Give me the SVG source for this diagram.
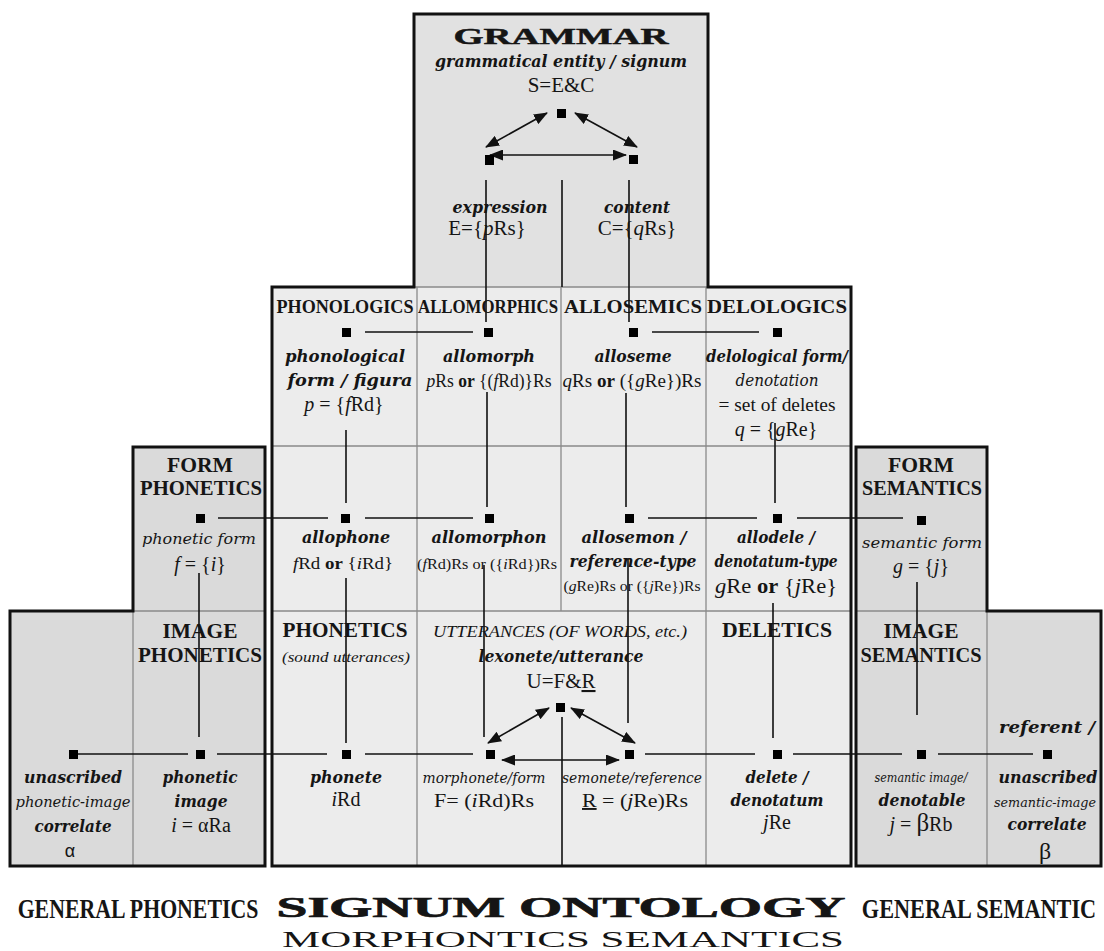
<svg xmlns="http://www.w3.org/2000/svg" width="1104" height="951" viewBox="0 0 1104 951">
<defs>
<marker id="ah" viewBox="0 0 14 11" refX="13" refY="5.5" markerWidth="14" markerHeight="11" markerUnits="userSpaceOnUse" orient="auto-start-reverse"><path d="M0,0 L14,5.5 L0,11 z" fill="#111"/></marker>
</defs>
<style>
text{font-family:"Liberation Serif","Times New Roman",serif;fill:#151515;text-anchor:middle}
.hd{font-weight:bold;font-size:18px}
.sh{font-weight:bold;font-size:20.5px}
.bi{font-family:"DejaVu Serif",serif;font-weight:bold;font-style:italic;font-size:16px}
.it{font-style:italic;font-size:17px}
.ic{font-family:"DejaVu Serif",serif;font-style:italic;font-size:15px}
.rg{font-size:20px}
.i{font-style:italic}
.b{font-weight:bold}
.sq{fill:#000}
.cn line{stroke:#111;stroke-width:1.6;fill:none}
.ar{marker-start:url(#ah);marker-end:url(#ah)}
.grid line{stroke:#8a8a8a;stroke-width:1.3}
.frame{stroke:#111;stroke-width:3;fill:none;stroke-linejoin:miter}
.title{font-weight:bold}
</style>
<rect x="0" y="0" width="1104" height="951" fill="#fff"/>
<g id="backgrounds">
<rect x="272" y="287" width="579" height="579" fill="#ececec"/>
<rect x="414" y="14" width="294" height="273" fill="#e1e1e1"/>
<polygon points="10,611 133,611 133,447 265,447 265,866 10,866" fill="#dadada"/>
<polygon points="856,447 987,447 987,611 1101,611 1101,866 856,866" fill="#dadada"/>
</g>
<g class="grid" id="grid">
<line x1="414" y1="287" x2="708" y2="287"/>
<line x1="417" y1="287" x2="417" y2="866"/>
<line x1="561" y1="287" x2="561" y2="611"/>
<line x1="706" y1="287" x2="706" y2="866"/>
<line x1="272" y1="446" x2="851" y2="446"/>
<line x1="272" y1="611" x2="851" y2="611"/>
<line x1="133" y1="611" x2="265" y2="611"/>
<line x1="133" y1="611" x2="133" y2="866"/>
<line x1="856" y1="611" x2="987" y2="611"/>
<line x1="987" y1="611" x2="987" y2="866"/>
</g>
<g id="frames">
<polygon class="frame" points="272,287 414,287 414,14 708,14 708,287 851,287 851,866 272,866"/>
<polygon class="frame" points="10,611 133,611 133,447 265,447 265,866 10,866"/>
<polygon class="frame" points="856,447 987,447 987,611 1101,611 1101,866 856,866"/>
</g>
<g class="cn" id="connectors">
<line class="ar" x1="547" y1="113" x2="486" y2="147"/>
<line class="ar" x1="575" y1="113" x2="637" y2="147"/>
<line class="ar" x1="490" y1="155" x2="626" y2="155"/>
<line x1="486" y1="180" x2="486" y2="322"/>
<line x1="562" y1="180" x2="562" y2="287"/>
<line x1="629" y1="180" x2="629" y2="322"/>
<line x1="365" y1="332" x2="473" y2="332"/>
<line x1="652" y1="332" x2="759" y2="332"/>
<line x1="346" y1="430" x2="346" y2="503"/>
<line x1="487" y1="392" x2="487" y2="507"/>
<line x1="626" y1="393" x2="626" y2="507"/>
<line x1="775" y1="423" x2="775" y2="503"/>
<line x1="218" y1="518" x2="328" y2="518"/>
<line x1="365" y1="518" x2="473" y2="518"/>
<line x1="648" y1="518" x2="757" y2="518"/>
<line x1="797" y1="518" x2="903" y2="518"/>
<line x1="199" y1="573" x2="199" y2="737"/>
<line x1="346" y1="578" x2="346" y2="743"/>
<line x1="484" y1="565" x2="484" y2="737"/>
<line x1="628" y1="558" x2="628" y2="723"/>
<line x1="773" y1="603" x2="773" y2="738"/>
<line x1="917" y1="582" x2="917" y2="715"/>
<line x1="78" y1="754" x2="188" y2="754"/>
<line x1="217" y1="754" x2="327" y2="754"/>
<line x1="365" y1="754" x2="473" y2="754"/>
<line x1="645" y1="754" x2="755" y2="754"/>
<line x1="793" y1="754" x2="902" y2="754"/>
<line x1="938" y1="754" x2="1033" y2="754"/>
<line class="ar" x1="502" y1="760" x2="619" y2="760"/>
<line class="ar" x1="549" y1="708" x2="488" y2="743"/>
<line class="ar" x1="571" y1="708" x2="635" y2="743"/>
<line x1="562" y1="717" x2="562" y2="866"/>
</g>
<g id="grammar">
<text x="561" y="44" class="hd" style="font-size:24px;stroke:#151515;stroke-width:0.5" textLength="215" lengthAdjust="spacingAndGlyphs">GRAMMAR</text>
<text x="561" y="67" class="bi" textLength="252" lengthAdjust="spacingAndGlyphs">grammatical entity / signum</text>
<text x="561" y="92" class="rg" style="font-size:21px">S=E&amp;C</text>
<rect class="sq" x="557" y="109" width="9" height="9"/>
</g>
<g id="expression">
<rect class="sq" x="485" y="155" width="9" height="10"/>
<text x="500" y="213" class="bi" style="font-size:17px" textLength="95" lengthAdjust="spacingAndGlyphs">expression</text>
<text x="487" y="235" class="rg" style="font-size:21px">E={<tspan class="i">p</tspan>Rs}</text>
</g>
<g id="content">
<rect class="sq" x="629" y="155" width="9" height="9"/>
<text x="637" y="213" class="bi" style="font-size:17px" textLength="66" lengthAdjust="spacingAndGlyphs">content</text>
<text x="637" y="235" class="rg" style="font-size:21px">C={<tspan class="i">q</tspan>Rs}</text>
</g>
<g id="phonological-form">
<text x="345" y="313" class="hd" textLength="137" lengthAdjust="spacingAndGlyphs">PHONOLOGICS</text>
<rect class="sq" x="342" y="328" width="9" height="9"/>
<text x="345" y="362" class="bi" textLength="120" lengthAdjust="spacingAndGlyphs">phonological</text>
<text x="350" y="386" class="bi" textLength="125" lengthAdjust="spacingAndGlyphs">form / figura</text>
<text x="344" y="411" class="rg"><tspan class="i">p</tspan> = {<tspan class="i">f</tspan>Rd}</text>
</g>
<g id="allomorph">
<text x="488" y="313" class="hd" textLength="140" lengthAdjust="spacingAndGlyphs">ALLOMORPHICS</text>
<rect class="sq" x="484" y="328" width="9" height="9"/>
<text x="489" y="362" class="bi" textLength="92" lengthAdjust="spacingAndGlyphs">allomorph</text>
<text x="489" y="387" class="rg" style="font-size:18px" textLength="125" lengthAdjust="spacingAndGlyphs"><tspan class="i">p</tspan>Rs <tspan class="b">or</tspan> {(<tspan class="i">f</tspan>Rd)}Rs</text>
</g>
<g id="alloseme">
<text x="633" y="313" class="hd" textLength="138" lengthAdjust="spacingAndGlyphs">ALLOSEMICS</text>
<rect class="sq" x="629" y="328" width="9" height="9"/>
<text x="633" y="362" class="bi" textLength="77" lengthAdjust="spacingAndGlyphs">alloseme</text>
<text x="632" y="387" class="rg" style="font-size:18px" textLength="139" lengthAdjust="spacingAndGlyphs"><tspan class="i">q</tspan>Rs <tspan class="b">or</tspan> ({<tspan class="i">g</tspan>Re})Rs</text>
</g>
<g id="delological-form">
<text x="777" y="313" class="hd" textLength="140" lengthAdjust="spacingAndGlyphs">DELOLOGICS</text>
<rect class="sq" x="773" y="328" width="9" height="9"/>
<text x="777" y="362" class="bi" textLength="142" lengthAdjust="spacingAndGlyphs">delological form/</text>
<text x="777" y="386" class="ic" style="font-size:16px" textLength="83" lengthAdjust="spacingAndGlyphs">denotation</text>
<text x="777" y="411" class="rg" style="font-size:19px" textLength="117" lengthAdjust="spacingAndGlyphs">= set of deletes</text>
<text x="776" y="436" class="rg"><tspan class="i">q</tspan> = {<tspan class="i">g</tspan>Re}</text>
</g>
<g id="phonetic-form">
<text x="200" y="472" class="sh" textLength="66" lengthAdjust="spacingAndGlyphs">FORM</text>
<text x="201" y="495" class="sh" textLength="122" lengthAdjust="spacingAndGlyphs">PHONETICS</text>
<rect class="sq" x="196" y="514" width="9" height="9"/>
<text x="199" y="544" class="ic" textLength="114" lengthAdjust="spacingAndGlyphs">phonetic form</text>
<text x="200" y="571" class="rg"><tspan class="i">f</tspan> = {<tspan class="i">i</tspan>}</text>
</g>
<g id="allophone">
<rect class="sq" x="341" y="514" width="9" height="9"/>
<text x="346" y="543" class="bi" textLength="88" lengthAdjust="spacingAndGlyphs">allophone</text>
<text x="343" y="569" class="rg" style="font-size:17px" textLength="100" lengthAdjust="spacingAndGlyphs"><tspan class="i">f</tspan>Rd <tspan class="b">or</tspan> {<tspan class="i">i</tspan>Rd}</text>
</g>
<g id="allomorphon">
<rect class="sq" x="485" y="514" width="9" height="9"/>
<text x="489" y="543" class="bi" textLength="115" lengthAdjust="spacingAndGlyphs">allomorphon</text>
<text x="487" y="569" class="rg" style="font-size:15px" textLength="140" lengthAdjust="spacingAndGlyphs">(<tspan class="i">f</tspan>Rd)Rs or ({<tspan class="i">i</tspan>Rd})Rs</text>
</g>
<g id="allosemon">
<rect class="sq" x="625" y="514" width="9" height="9"/>
<text x="634" y="543" class="bi" textLength="105" lengthAdjust="spacingAndGlyphs">allosemon /</text>
<text x="633" y="567" class="bi" textLength="127" lengthAdjust="spacingAndGlyphs">reference-type</text>
<text x="632" y="591" class="rg" style="font-size:15px" textLength="137" lengthAdjust="spacingAndGlyphs">(<tspan class="i">g</tspan>Re)Rs or ({<tspan class="i">j</tspan>Re})Rs</text>
</g>
<g id="allodele">
<rect class="sq" x="773" y="514" width="9" height="9"/>
<text x="776" y="543" class="bi" textLength="78" lengthAdjust="spacingAndGlyphs">allodele /</text>
<text x="776" y="567" class="bi" textLength="123" lengthAdjust="spacingAndGlyphs">denotatum-type</text>
<text x="776" y="593" class="rg" textLength="122" lengthAdjust="spacingAndGlyphs"><tspan class="i">g</tspan>Re  <tspan class="b">or</tspan> {<tspan class="i">j</tspan>Re}</text>
</g>
<g id="semantic-form">
<text x="921" y="472" class="sh" textLength="66" lengthAdjust="spacingAndGlyphs">FORM</text>
<text x="922" y="495" class="sh" textLength="120" lengthAdjust="spacingAndGlyphs">SEMANTICS</text>
<rect class="sq" x="917" y="516" width="9" height="9"/>
<text x="922" y="548" class="ic" textLength="120" lengthAdjust="spacingAndGlyphs">semantic form</text>
<text x="921" y="573" class="rg"><tspan class="i">g</tspan>  = {<tspan class="i">j</tspan>}</text>
</g>
<g id="phonetic-image-correlate">
<rect class="sq" x="69" y="750" width="9" height="9"/>
<text x="73" y="783" class="bi" textLength="98" lengthAdjust="spacingAndGlyphs">unascribed</text>
<text x="73" y="807" class="ic" textLength="115" lengthAdjust="spacingAndGlyphs">phonetic-image</text>
<text x="73" y="832" class="bi" textLength="77" lengthAdjust="spacingAndGlyphs">correlate</text>
<text x="70" y="857" style="font-family:'Liberation Sans',Arial,sans-serif;font-size:18px">α</text>
</g>
<g id="phonetic-image">
<text x="200" y="638" class="sh" textLength="75" lengthAdjust="spacingAndGlyphs">IMAGE</text>
<text x="200" y="662" class="sh" textLength="124" lengthAdjust="spacingAndGlyphs">PHONETICS</text>
<rect class="sq" x="196" y="750" width="9" height="9"/>
<text x="200" y="783" class="bi" textLength="75" lengthAdjust="spacingAndGlyphs">phonetic</text>
<text x="201" y="807" class="bi" textLength="53" lengthAdjust="spacingAndGlyphs">image</text>
<text x="201" y="832" class="rg"><tspan class="i">i</tspan> = αRa</text>
</g>
<g id="phonete">
<text x="345" y="637" class="sh" textLength="125" lengthAdjust="spacingAndGlyphs">PHONETICS</text>
<text x="346" y="662" class="it" style="font-size:15px" textLength="128" lengthAdjust="spacingAndGlyphs">(sound utterances)</text>
<rect class="sq" x="342" y="750" width="9" height="9"/>
<text x="346" y="783" class="bi" textLength="72" lengthAdjust="spacingAndGlyphs">phonete</text>
<text x="346" y="806" class="rg"><tspan class="i">i</tspan>Rd</text>
</g>
<g id="utterance">
<text x="560" y="637" class="it" textLength="254" lengthAdjust="spacingAndGlyphs">UTTERANCES (OF WORDS, etc.)</text>
<text x="561" y="662" class="bi" textLength="165" lengthAdjust="spacingAndGlyphs">lexonete/utterance</text>
<text x="561" y="688" class="rg" style="font-size:21px">U=F&amp;<tspan text-decoration="underline">R</tspan></text>
<rect class="sq" x="556" y="703" width="9" height="9"/>
</g>
<g id="morphonete">
<rect class="sq" x="486" y="750" width="9" height="9"/>
<text x="484" y="783" class="ic" textLength="123" lengthAdjust="spacingAndGlyphs">morphonete/form</text>
<text x="484" y="807" class="rg" style="font-size:19px" textLength="100" lengthAdjust="spacingAndGlyphs">F= (<tspan class="i">i</tspan>Rd)Rs</text>
</g>
<g id="semonete">
<rect class="sq" x="625" y="750" width="9" height="9"/>
<text x="632" y="783" class="ic" textLength="140" lengthAdjust="spacingAndGlyphs">semonete/reference</text>
<text x="635" y="807" class="rg" style="font-size:19px" textLength="106" lengthAdjust="spacingAndGlyphs"><tspan text-decoration="underline">R</tspan> = (<tspan class="i">j</tspan>Re)Rs</text>
</g>
<g id="delete">
<text x="777" y="637" class="sh" textLength="110" lengthAdjust="spacingAndGlyphs">DELETICS</text>
<rect class="sq" x="773" y="750" width="9" height="9"/>
<text x="777" y="783" class="bi" textLength="63" lengthAdjust="spacingAndGlyphs">delete /</text>
<text x="777" y="806" class="bi" textLength="93" lengthAdjust="spacingAndGlyphs">denotatum</text>
<text x="777" y="829" class="rg"><tspan class="i">j</tspan>Re</text>
</g>
<g id="semantic-image">
<text x="921" y="638" class="sh" textLength="75" lengthAdjust="spacingAndGlyphs">IMAGE</text>
<text x="921" y="662" class="sh" textLength="121" lengthAdjust="spacingAndGlyphs">SEMANTICS</text>
<rect class="sq" x="917" y="750" width="9" height="9"/>
<text x="921" y="782" class="ic" style="font-size:12px" textLength="93" lengthAdjust="spacingAndGlyphs">semantic image/</text>
<text x="922" y="806" class="bi" textLength="87" lengthAdjust="spacingAndGlyphs">denotable</text>
<text x="921" y="831" class="rg"><tspan class="i">j</tspan> = <tspan style="font-size:25px">β</tspan>Rb</text>
</g>
<g id="semantic-image-correlate">
<text x="1047" y="733" class="bi" textLength="96" lengthAdjust="spacingAndGlyphs">referent /</text>
<rect class="sq" x="1043" y="750" width="9" height="9"/>
<text x="1048" y="783" class="bi" textLength="99" lengthAdjust="spacingAndGlyphs">unascribed</text>
<text x="1045" y="807" class="ic" style="font-size:13px" textLength="102" lengthAdjust="spacingAndGlyphs">semantic-image</text>
<text x="1047" y="830" class="bi" textLength="79" lengthAdjust="spacingAndGlyphs">correlate</text>
<text x="1045" y="859" class="rg" style="font-size:24px">β</text>
</g>
<g id="titles">
<text transform="translate(138,918) scale(0.78,1)" x="0" y="0" class="title" style="font-size:28px">GENERAL PHONETICS</text>
<text x="561" y="917" class="title" style="font-size:30px;stroke:#151515;stroke-width:0.7" textLength="569" lengthAdjust="spacingAndGlyphs">SIGNUM ONTOLOGY</text>
<text transform="translate(979,918) scale(0.795,1)" x="0" y="0" class="title" style="font-size:28px">GENERAL SEMANTIC</text>
<text x="563" y="947" style="font-size:24px" textLength="562" lengthAdjust="spacingAndGlyphs">MORPHONTICS SEMANTICS</text>
</g>
</svg>
